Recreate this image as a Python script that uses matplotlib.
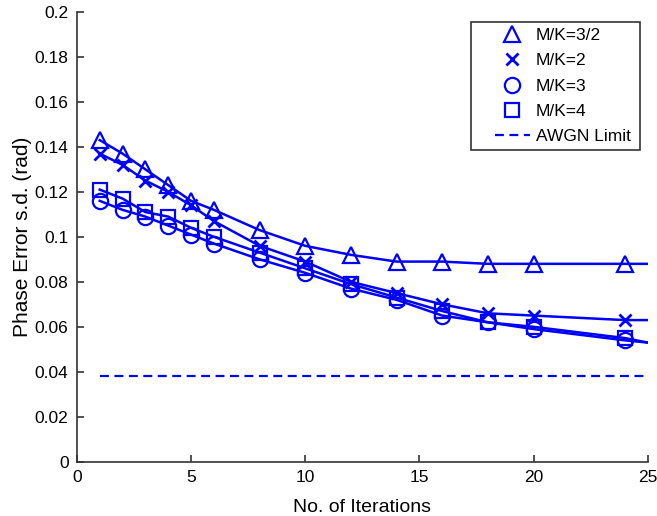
import numpy as np
import matplotlib.pyplot as plt
from matplotlib.patches import Rectangle

plt.rcParams['font.family'] = ['Liberation Sans', 'DejaVu Sans']

# iterazioni con marker
iters = [1, 2, 3, 4, 5, 6, 8, 10, 12, 14, 16, 18, 20, 24]

mk_15 = [0.143, 0.137, 0.130, 0.123, 0.116, 0.112, 0.103, 0.096, 0.092, 0.089, 0.089, 0.088, 0.088, 0.088]
mk_2 = [0.137, 0.132, 0.125, 0.120, 0.114, 0.107, 0.096, 0.089, 0.080, 0.075, 0.070, 0.066, 0.065, 0.063]
mk_3 = [0.116, 0.112, 0.109, 0.105, 0.101, 0.097, 0.090, 0.084, 0.077, 0.072, 0.065, 0.062, 0.059, 0.054]
mk_4 = [0.121, 0.117, 0.111, 0.109, 0.104, 0.100, 0.093, 0.086, 0.079, 0.073, 0.067, 0.062, 0.060, 0.055]

# curve continue fino a 25
line_x = [1, 2, 3, 4, 5, 6, 8, 10, 12, 14, 16, 18, 20, 24, 25]
ln_15 = mk_15 + [0.088]
ln_2 = mk_2 + [0.063]
ln_3 = mk_3 + [0.053]
ln_4 = mk_4 + [0.053]

awgn_x = [1, 25]
awgn_y = [0.038, 0.038]

col = '#0000ff'

fig = plt.figure(figsize=(6.57, 5.16), dpi=100)
ax = fig.add_axes([0.117, 0.105, 0.869, 0.872])

for y in [ln_15, ln_2, ln_3, ln_4]:
    ax.plot(line_x, y, color=col, lw=1.8)

ax.plot(iters, mk_15, ls='none', marker='^', ms=12, mfc='none', mec=col, mew=1.6, label='M/K=3/2')
ax.plot(iters, mk_2, ls='none', marker='x', ms=9, mec=col, mew=2, label='M/K=2')
ax.plot(iters, mk_3, ls='none', marker='o', ms=11, mfc='none', mec=col, mew=1.6, label='M/K=3')
ax.plot(iters, mk_4, ls='none', marker='s', ms=10, mfc='none', mec=col, mew=1.6, label='M/K=4')
ax.plot(awgn_x, awgn_y, color=col, lw=1.6, ls='--', dashes=(4, 2.5), label='AWGN Limit')

ax.set_xlim(0, 25)
ax.set_ylim(0, 0.2)
ax.set_xticks([0, 5, 10, 15, 20, 25])
ax.set_yticks(np.arange(0, 0.201, 0.02))
ax.set_yticklabels(['0', '0.02', '0.04', '0.06', '0.08', '0.1', '0.12', '0.14', '0.16', '0.18', '0.2'])
ax.tick_params(direction='in', length=5, labelsize=12.5, color='#333333', width=1.2, pad=6)
ax.spines['top'].set_visible(False)
ax.spines['right'].set_visible(False)
for s in ['left', 'bottom']:
    ax.spines[s].set_color('#333333')
    ax.spines[s].set_linewidth(1.2)

ax.set_xlabel('No. of Iterations', fontsize=14, labelpad=10)
ax.set_ylabel('Phase Error s.d. (rad)', fontsize=15, labelpad=2)

# legenda senza cornice + riquadro disegnato a parte
leg = ax.legend(loc='upper left', bbox_to_anchor=(495 / 657, 1 - 28 / 516),
                bbox_transform=fig.transFigure, fontsize=12.5, frameon=False,
                handlelength=2.0, borderpad=0, borderaxespad=0,
                labelspacing=0.58, handletextpad=0.35)
fig.patches.append(Rectangle((471 / 657, 1 - 150 / 516), 169 / 657, 128 / 516,
                             transform=fig.transFigure, fill=False,
                             edgecolor='#333333', lw=1.2))

fig.savefig('out.png', dpi=100)
